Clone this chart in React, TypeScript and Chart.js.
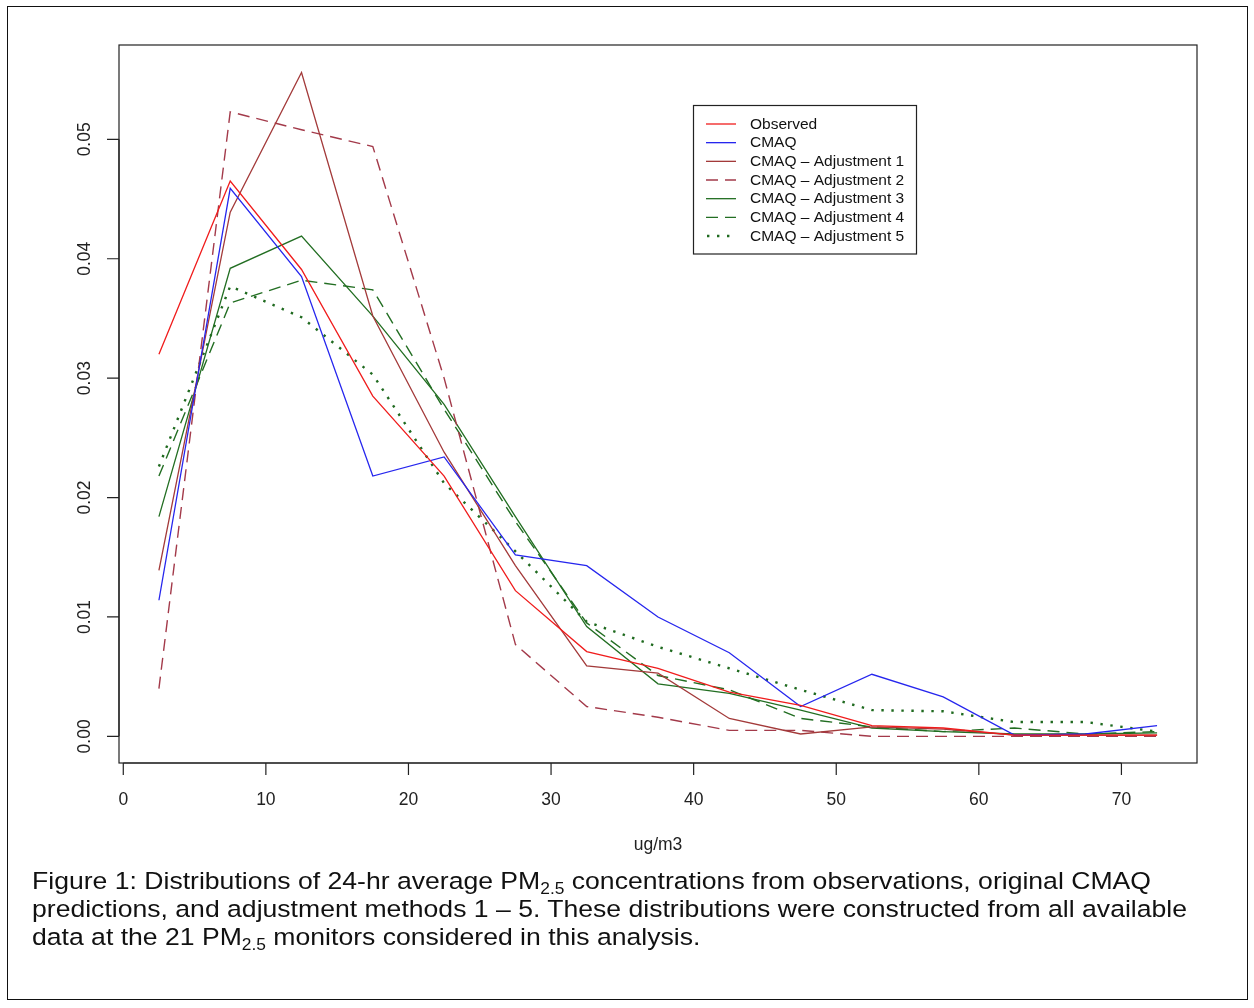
import React, { useEffect, useRef } from "react";
import { Chart, registerables } from "chart.js";

Chart.register(...registerables);

// ---- data ----
const binMids = [2.5, 7.5, 12.5, 17.5, 22.5, 27.5, 32.5, 37.5, 42.5, 47.5, 52.5, 57.5, 62.5, 67.5, 72.5];

const observed = [0.0320, 0.0465, 0.0391, 0.0285, 0.0218, 0.0122, 0.0071, 0.0057, 0.0037, 0.0026, 0.0009, 0.0007, 0.0001, 0.0001, 0.0001];
const cmaq = [0.0114, 0.0459, 0.0385, 0.0218, 0.0234, 0.0152, 0.0143, 0.0100, 0.0070, 0.0025, 0.0052, 0.0033, 0.0001, 0.0002, 0.0009];
const adj1 = [0.0139, 0.0439, 0.0556, 0.0352, 0.0238, 0.0143, 0.0059, 0.0053, 0.0015, 0.0002, 0.0008, 0.0006, 0.0001, 0.0001, 0.0001];
const adj2 = [0.0040, 0.0523, 0.0508, 0.0494, 0.0300, 0.0077, 0.0025, 0.0016, 0.0005, 0.0005, 0.0000, 0.0000, 0.0000, 0.0000, 0.0000];
const adj3 = [0.0184, 0.0392, 0.0419, 0.0352, 0.0278, 0.0184, 0.0092, 0.0044, 0.0036, 0.0022, 0.0007, 0.0004, 0.0002, 0.0002, 0.0003];
const adj4 = [0.0218, 0.0363, 0.0382, 0.0374, 0.0274, 0.0180, 0.0095, 0.0051, 0.0039, 0.0015, 0.0008, 0.0004, 0.0007, 0.0002, 0.0004];
const adj5 = [0.0226, 0.0377, 0.0351, 0.0303, 0.0212, 0.0155, 0.0096, 0.0075, 0.0057, 0.0039, 0.0022, 0.0021, 0.0012, 0.0012, 0.0004];

const seriesNames = [
  "Observed",
  "CMAQ",
  "CMAQ \u2013 Adjustment 1",
  "CMAQ \u2013 Adjustment 2",
  "CMAQ \u2013 Adjustment 3",
  "CMAQ \u2013 Adjustment 4",
  "CMAQ \u2013 Adjustment 5",
];

const xTicks = [0, 10, 20, 30, 40, 50, 60, 70];
const xTickLabels = ["0", "10", "20", "30", "40", "50", "60", "70"];
const yTicks = [0, 0.01, 0.02, 0.03, 0.04, 0.05];
const yTickLabels = ["0.00", "0.01", "0.02", "0.03", "0.04", "0.05"];
const xAxisTitle = "ug/m3";

const FONT = '"Liberation Sans", Arial, Helvetica, sans-serif';

const styles = [
  { color: "#f01c1c", dash: [] as number[], width: 1.3 },
  { color: "#2626ee", dash: [] as number[], width: 1.3 },
  { color: "#a33a3a", dash: [] as number[], width: 1.3 },
  { color: "#a33a4a", dash: [12, 7], width: 1.4 },
  { color: "#226e22", dash: [] as number[], width: 1.3 },
  { color: "#226e22", dash: [12, 7], width: 1.4 },
  { color: "#1f6a1f", dash: [2.4, 7.6], width: 2.4 },
];

const allSeries = [observed, cmaq, adj1, adj2, adj3, adj4, adj5];

const rAxesPlugin = {
  id: "rAxes",
  afterDraw(chart: any) {
    const { ctx, chartArea, scales } = chart;
    const xs = scales.x;
    const ys = scales.y;
    ctx.save();
    ctx.setLineDash([]);
    ctx.strokeStyle = "#222";
    ctx.lineWidth = 1.2;
    // plot box
    ctx.strokeRect(chartArea.left, chartArea.top, chartArea.right - chartArea.left, chartArea.bottom - chartArea.top);

    ctx.fillStyle = "#222";
    ctx.font = `17.5px ${FONT}`;
    // x axis ticks
    ctx.beginPath();
    const x0 = xs.getPixelForValue(xTicks[0]);
    const x1 = xs.getPixelForValue(xTicks[xTicks.length - 1]);
    ctx.moveTo(x0, chartArea.bottom);
    ctx.lineTo(x1, chartArea.bottom);
    xTicks.forEach((v) => {
      const px = xs.getPixelForValue(v);
      ctx.moveTo(px, chartArea.bottom);
      ctx.lineTo(px, chartArea.bottom + 12);
    });
    // y axis ticks
    const y0 = ys.getPixelForValue(yTicks[0]);
    const y1 = ys.getPixelForValue(yTicks[yTicks.length - 1]);
    ctx.moveTo(chartArea.left, y0);
    ctx.lineTo(chartArea.left, y1);
    yTicks.forEach((v) => {
      const py = ys.getPixelForValue(v);
      ctx.moveTo(chartArea.left, py);
      ctx.lineTo(chartArea.left - 12, py);
    });
    ctx.stroke();

    ctx.textAlign = "center";
    ctx.textBaseline = "middle";
    xTicks.forEach((v, i) => {
      const px = xs.getPixelForValue(v);
      ctx.fillText(xTickLabels[i], px, chartArea.bottom + 37);
    });
    yTicks.forEach((v, i) => {
      const py = ys.getPixelForValue(v);
      ctx.save();
      ctx.translate(chartArea.left - 34, py);
      ctx.rotate(-Math.PI / 2);
      ctx.fillText(yTickLabels[i], 0, 0);
      ctx.restore();
    });
    // axis title
    ctx.fillText(xAxisTitle, (chartArea.left + chartArea.right) / 2, chartArea.bottom + 82);
    ctx.restore();
  },
};

const rLegendPlugin = {
  id: "rLegend",
  afterDraw(chart: any) {
    const { ctx } = chart;
    const bx = 693.5, by = 105.5, bw = 223, bh = 148.5;
    ctx.save();
    ctx.fillStyle = "#fff";
    ctx.fillRect(bx, by, bw, bh);
    ctx.strokeStyle = "#222";
    ctx.lineWidth = 1.2;
    ctx.setLineDash([]);
    ctx.strokeRect(bx, by, bw, bh);
    ctx.font = `15.5px ${FONT}`;
    ctx.textBaseline = "middle";
    ctx.textAlign = "left";
    chart.data.datasets.forEach((ds: any, i: number) => {
      const cy = 124 + i * 18.67;
      ctx.strokeStyle = ds.borderColor;
      ctx.lineWidth = ds.borderWidth;
      ctx.setLineDash(ds.borderDash || []);
      ctx.beginPath();
      if (i === 6) {
        ctx.moveTo(707, cy);
        ctx.lineTo(737, cy);
      } else {
        ctx.moveTo(706, cy);
        ctx.lineTo(736, cy);
      }
      ctx.stroke();
      ctx.setLineDash([]);
      ctx.fillStyle = "#111";
      ctx.fillText(ds.label, 750, cy + 0.5);
    });
    ctx.restore();
  },
};

export default function App() {
  const canvasRef = useRef<HTMLCanvasElement | null>(null);

  useEffect(() => {
    if (!canvasRef.current) return;
    const datasets = allSeries.map((vals, i) => ({
      label: seriesNames[i],
      data: binMids.map((x, j) => ({ x, y: vals[j] })),
      borderColor: styles[i].color,
      backgroundColor: styles[i].color,
      borderWidth: styles[i].width,
      borderDash: styles[i].dash,
      pointRadius: 0,
      tension: 0,
      fill: false,
    }));
    const chart = new Chart(canvasRef.current, {
      type: "line",
      data: { datasets },
      options: {
        responsive: false,
        animation: false,
        devicePixelRatio: 1,
        layout: { padding: { left: 119, top: 45, right: 1254 - 1197, bottom: 1008 - 763 } },
        plugins: { legend: { display: false }, tooltip: { enabled: false } },
        scales: {
          x: { type: "linear", min: -0.3, max: 75.3, display: false },
          y: { type: "linear", min: -0.00223, max: 0.0579, display: false },
        },
      },
      plugins: [rAxesPlugin, rLegendPlugin],
    });
    return () => chart.destroy();
  }, []);

  const sub: React.CSSProperties = { fontSize: "16px", verticalAlign: "-5px", lineHeight: 0 };

  return (
    <div style={{ position: "absolute", left: 0, top: 0, width: 1254, height: 1008, background: "#fff", overflow: "hidden" }}>
      <canvas ref={canvasRef} width={1254} height={1008} style={{ position: "absolute", left: 0, top: 0, width: 1254, height: 1008 }} />
      <div
        style={{
          position: "absolute",
          left: 7,
          top: 6,
          width: 1241,
          height: 994,
          border: "1.5px solid #111",
          boxSizing: "border-box",
          pointerEvents: "none",
        }}
      />
      <div
        style={{
          position: "absolute",
          left: 32,
          top: 867,
          fontFamily: FONT,
          fontSize: "24.5px",
          lineHeight: "28px",
          color: "#111",
          whiteSpace: "nowrap",
          transform: "scaleX(1.085)",
          transformOrigin: "0 0",
        }}
      >
        <div>
          Figure 1: Distributions of 24-hr average PM<span style={sub}>2.5</span> concentrations from observations, original CMAQ
        </div>
        <div>predictions, and adjustment methods 1 – 5. These distributions were constructed from all available</div>
        <div>
          data at the 21 PM<span style={sub}>2.5</span> monitors considered in this analysis.
        </div>
      </div>
    </div>
  );
}
